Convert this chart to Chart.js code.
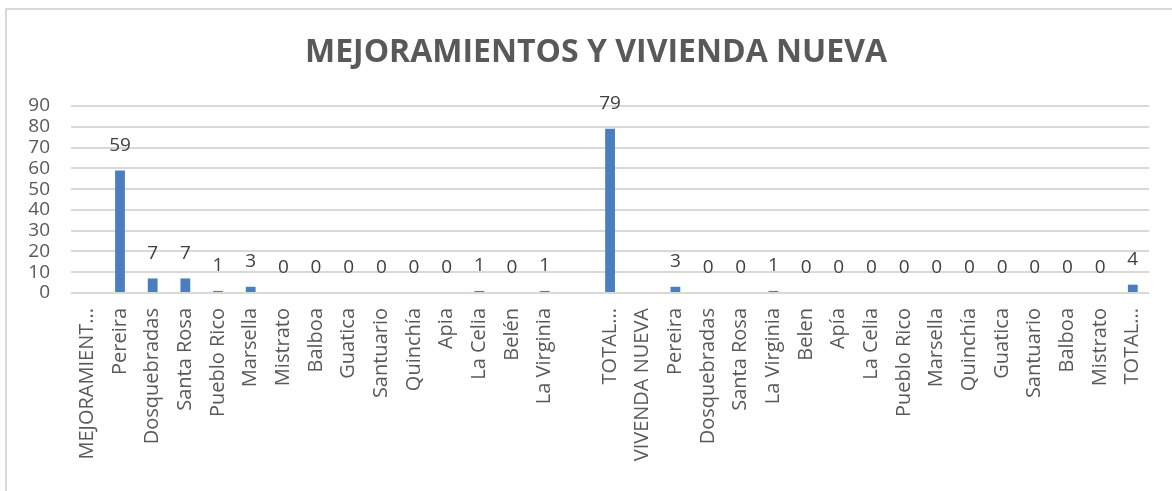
<!DOCTYPE html>
<html>
<head>
<meta charset="utf-8">
<script src="https://cdn.jsdelivr.net/npm/chart.js@4"></script>
<style>
  body { margin: 0; background: #fff; }
  #marco { position: absolute; left: 5px; top: 8px; width: 1167px; height: 483px;
           border-left: 2px solid #d9d9d9; border-top: 2px solid #d9d9d9; box-sizing: border-box; }
  #lienzo { position: absolute; left: 0; top: 0; }
</style>
</head>
<body>
<div id="marco"></div>
<canvas id="lienzo" width="1172" height="491"></canvas>
<script>
const categorias = ['MEJORAMIENT...', 'Pereira', 'Dosquebradas', 'Santa Rosa', 'Pueblo Rico', 'Marsella',
    'Mistrato', 'Balboa', 'Guatica', 'Santuario', 'Quinchía', 'Apia', 'La Celia', 'Belén', 'La Virginia',
    '', 'TOTAL...', 'VIVENDA NUEVA', 'Pereira', 'Dosquebradas', 'Santa Rosa', 'La Virginia', 'Belen',
    'Apía', 'La Celia', 'Pueblo Rico', 'Marsella', 'Quinchía', 'Guatica', 'Santuario', 'Balboa',
    'Mistrato', 'TOTAL...'];
const valores = [null, 59, 7, 7, 1, 3, 0, 0, 0, 0, 0, 0, 1, 0, 1,
    null, 79, null, 3, 0, 0, 1, 0, 0, 0, 0, 0, 0, 0, 0, 0, 0, 4];
const ticksY = [0, 10, 20, 30, 40, 50, 60, 70, 80, 90];
const titulo = 'MEJORAMIENTOS Y VIVIENDA NUEVA';

const fuente = "'Open Sans', sans-serif";

// etiquetas de valor encima de cada barra
const etiquetasValor = {
    id: 'etiquetasValor',
    afterDatasetsDraw(chart) {
        const ctx = chart.ctx;
        const meta = chart.getDatasetMeta(0);
        ctx.save();
        ctx.font = '19px ' + fuente;
        ctx.fillStyle = '#404040';
        ctx.textAlign = 'center';
        ctx.textBaseline = 'middle';
        meta.data.forEach((barra, i) => {
            const v = valores[i];
            if (v === null) return;
            ctx.fillText(String(v), barra.x, barra.y - 25);
        });
        ctx.restore();
    }
};

// titulo centrado sobre todo el marco (no solo el area de datos)
const tituloMarco = {
    id: 'tituloMarco',
    afterDraw(chart) {
        const ctx = chart.ctx;
        ctx.save();
        ctx.font = 'bold 32px ' + fuente;
        ctx.fillStyle = '#595959';
        ctx.textAlign = 'center';
        ctx.textBaseline = 'middle';
        ctx.fillText(titulo, 596, 53);
        ctx.restore();
    }
};

new Chart(document.getElementById('lienzo').getContext('2d'), {
    type: 'bar',
    data: {
        labels: categorias,
        datasets: [{
            data: valores,
            backgroundColor: '#4a7ebf',
            barPercentage: 0.6,
            categoryPercentage: 0.5
        }]
    },
    options: {
        responsive: false,
        animation: false,
        layout: { padding: { top: 106, left: 0, right: 14, bottom: 0 } },
        plugins: {
            legend: { display: false },
            tooltip: { enabled: false },
            title: { display: false }
        },
        scales: {
            y: {
                min: 0,
                max: 90,
                afterBuildTicks(scale) {
                    scale.ticks = ticksY.map(v => ({ value: v }));
                },
                afterFit(scale) { scale.width = 71; },
                ticks: { color: '#595959', font: { family: fuente, size: 19 }, padding: 21,
                         autoSkip: false, stepSize: 10 },
                grid: { color: '#d9d9d9', lineWidth: 2, drawTicks: false },
                border: { display: false }
            },
            x: {
                afterFit(scale) { scale.height = 198; },
                ticks: {
                    color: '#595959',
                    font: { family: fuente, size: 20 },
                    minRotation: 90,
                    maxRotation: 90,
                    autoSkip: false,
                    padding: 15
                },
                grid: { display: false, drawTicks: false },
                border: { display: false }
            }
        }
    },
    plugins: [etiquetasValor, tituloMarco]
});
</script>
</body>
</html>
